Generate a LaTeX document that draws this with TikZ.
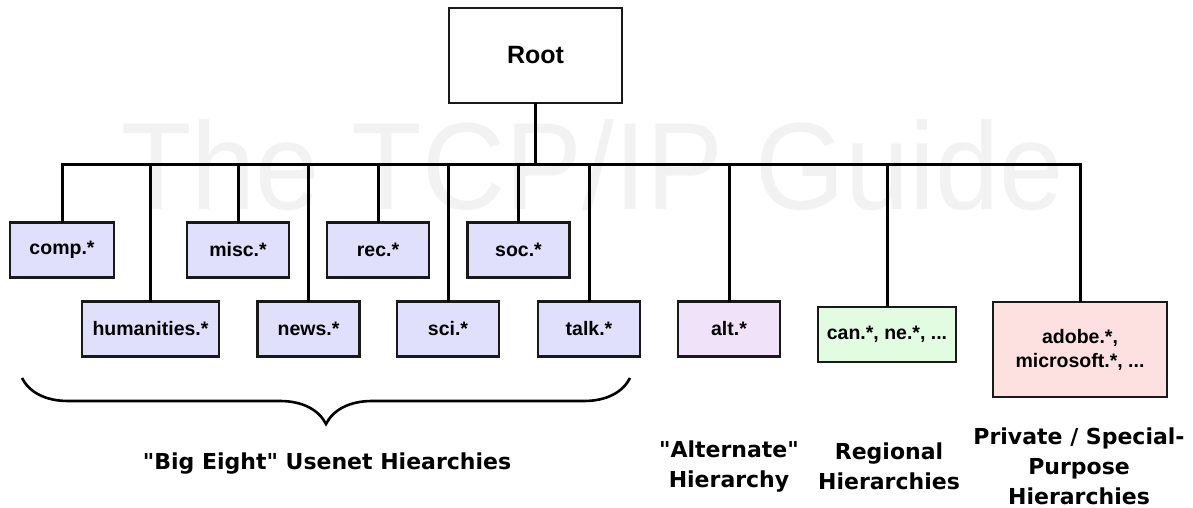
\documentclass[tikz,border=0pt]{standalone}
\usepackage{fontspec}
\setmainfont{Liberation Sans}
\newfontfamily\labelfont{DejaVu Sans}
\usetikzlibrary{decorations.pathreplacing}
\definecolor{bigeight}{HTML}{E0E0FC}
\definecolor{altfill}{HTML}{F0E2F9}
\definecolor{regfill}{HTML}{E2FCE2}
\definecolor{privfill}{HTML}{FDE0E0}
\definecolor{wmark}{HTML}{F2F2F2}
\tikzset{
  box/.style={draw=black!90, line width=2.8pt, inner sep=0pt, outer sep=0pt,
    align=center, font=\bfseries\fontsize{19.5}{24}\selectfont},
  grp/.style={box, fill=bigeight, minimum width=102pt, minimum height=55pt},
  conn/.style={line width=3pt, black},
  caption/.style={align=center, font=\labelfont\bfseries\fontsize{22}{30}\selectfont},
}
\begin{document}
\begin{tikzpicture}[x=1pt, y=-1pt]
\useasboundingbox (0,0) rectangle (1193,508);
\fill[white] (0,0) rectangle (1193,508);

% faint background lettering
\node[anchor=base west, inner sep=0pt, text=wmark] (wm) at (121,209)
  {\fontsize{124}{124}\selectfont\scalebox{0.93}[1]{The TCP/IP Guide}};

% root of the namespace
\node[box, minimum width=173pt, minimum height=95pt,
      font=\bfseries\fontsize{25}{30}\selectfont] (root) at (535.5,55.5) {Root};

% "Big Eight" hierarchies, staggered in two rows
\node[grp, minimum width=104pt] (comp) at (62,250) {comp.*};
\node[grp] (misc) at (238,250) {misc.*};
\node[grp] (rec)  at (378,250) {rec.*};
\node[grp] (soc)  at (518.5,250) {soc.*};
\node[grp, minimum width=137pt] (hum) at (150.5,329) {humanities.*};
\node[grp] (news) at (308.5,329) {news.*};
\node[grp] (sci)  at (448,329) {sci.*};
\node[grp] (talk) at (589,329) {talk.*};

% other hierarchies
\node[box, fill=altfill, minimum width=102pt, minimum height=55pt] (alt) at (729,329) {alt.*};
\node[box, fill=regfill, minimum width=138pt, minimum height=55pt] (reg) at (887,334.5) {can.*, ne.*, ...};
\node[box, fill=privfill, minimum width=174pt, minimum height=95pt] (priv) at (1080,349.5)
  {adobe.*,\\ microsoft.*, ...};

% bus line below the root
\coordinate (busL) at (62,164);
\coordinate (busR) at (1080,164);
\draw[conn] (root.south) -- (root.south |- busL);
\draw[conn, line cap=rect] (comp.north |- busL) -- (priv.north |- busR);
\foreach \n in {comp,misc,rec,soc,hum,news,sci,talk,alt,reg,priv}
  \draw[conn] (\n.north) -- (\n.north |- busL);

% brace grouping the Big Eight
\coordinate (brL) at (22,378);
\coordinate (brR) at (630,378);
\draw[line width=2.6pt, decorate, decoration={brace, amplitude=46pt, mirror}] (brL) -- (brR);

% captions
\node[caption] (capbig)  at (327,464) {"Big Eight" Usenet Hiearchies};
\node[caption] (capalt)  at (729,467) {"Alternate"\\Hierarchy};
\node[caption] (capreg)  at (889,466) {Regional\\Hierarchies};
\node[caption] (cappriv) at (1079,466) {Private / Special-\\Purpose\\Hierarchies};
\end{tikzpicture}
\end{document}
